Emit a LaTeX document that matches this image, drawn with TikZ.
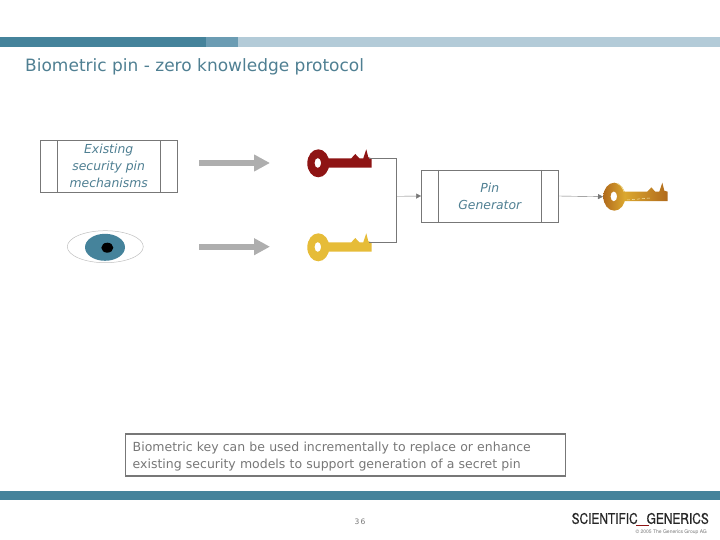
\documentclass[tikz,border=0pt]{standalone}
\usepackage{fontspec}
\setmainfont{DejaVu Sans}
\newfontfamily\logofont[FakeStretch=0.82,FakeBold=0.6]{TeX Gyre Heros}
\newfontfamily\smallfont{TeX Gyre Heros}
\usetikzlibrary{positioning,arrows.meta}
\definecolor{barblue}{HTML}{45839B}
\definecolor{barmid}{HTML}{6B9CB3}
\definecolor{barpale}{HTML}{B3CBD8}
\definecolor{titleblue}{HTML}{4F7F92}
\definecolor{wiregray}{HTML}{777777}
\definecolor{arrowgray}{HTML}{AEAEAE}
\definecolor{keyred}{HTML}{8E1414}
\definecolor{keyyellow}{HTML}{E6BC38}
\definecolor{keygold}{HTML}{DDAA30}
\definecolor{keybrown}{HTML}{B06A1C}
\definecolor{keycream}{HTML}{F6E6A8}
\tikzset{
    procbox/.style={draw=wiregray, minimum width=137pt, inner sep=0pt, align=center,
        text=titleblue, font=\fontsize{12.4}{17}\selectfont\itshape,
        path picture={
            \draw[wiregray] ([xshift=17pt]path picture bounding box.north west)
                -- ([xshift=17pt]path picture bounding box.south west);
            \draw[wiregray] ([xshift=-17pt]path picture bounding box.north east)
                -- ([xshift=-17pt]path picture bounding box.south east);
        }},
    wire/.style={draw=wiregray, line width=1pt},
    feedarrow/.style={draw=arrowgray, line width=5.6pt,
        -{Triangle[length=16pt,width=16pt]}},
}
% key lying on its side, ring centre at #2
\newcommand{\drawkey}[4]{
    \begin{scope}[shift={#2}]
        \path[#3] (9,-5) -- (33,-5) -- (37,-9.3) -- (41,-5) -- (45,-5)
            -- (48,-14) -- (50,-6) -- (53.4,-5) -- (53.4,4.4) -- (9,4.4) -- cycle;
        \path[#4, even odd rule] (0,0) ellipse (11 and 14)
            (-0.5,-0.3) ellipse (3.3 and 5);
        \coordinate (#1) at (50.5,-4.6);
    \end{scope}
}
\begin{document}
\begin{tikzpicture}[x=1pt,y=-1pt]
    \useasboundingbox (0,0) rectangle (720,540);

    % Bars
    \fill[barblue] (0,37) rectangle (206,47);
    \fill[barmid] (206,37) rectangle (238,47);
    \fill[barpale] (238,37) rectangle (720,47);
    \fill[barblue] (0,491) rectangle (720,500);

    \node[anchor=west, text=titleblue, inner sep=0pt,
        font=\fontsize{17}{18}\selectfont] (title) at (25,66.5)
        {Biometric pin - zero knowledge protocol};

    % Boxes
    \node[procbox, minimum height=52pt] (pinsource) at (108.7,166.2)
        {Existing\\security pin\\mechanisms};
    \node[procbox, minimum height=52pt] (pingen) at (489.8,196)
        {Pin\\Generator};

    % Eye
    \draw[draw=lightgray, line width=.5pt] (105.3,246.7) ellipse (38 and 16);
    \fill[barblue] (105,247.3) ellipse (20 and 13.5);
    \fill[black] (107.3,247.7) ellipse (6 and 5);

    % Keys
    \drawkey{redkey}{(318.3,163.3)}{fill=keyred}{fill=keyred}
    \drawkey{yellowkey}{(318.3,247.3)}{fill=keyyellow}{fill=keyyellow}
    \drawkey{goldkey}{(614.3,196.7)}{left color=keygold, right color=keybrown}
        {left color=keybrown, right color=keygold}
    \draw[keycream, line width=.6pt] (617,183.4) arc[start angle=-75, end angle=-20,
        x radius=10, y radius=13];
    \draw[keycream, dashed, line width=.5pt, dash pattern=on 3pt off 2pt]
        (627,200) -- (650,198);

    % Arrows
    \coordinate (feedonestart) at (199,163);
    \coordinate (feedoneend) at (270,163);
    \coordinate (feedtwostart) at (199,246.7);
    \coordinate (feedtwoend) at (270,246.7);
    \draw[feedarrow] (feedonestart) -- (feedoneend);
    \draw[feedarrow] (feedtwostart) -- (feedtwoend);

    \coordinate (joint) at (396,196.3);
    \coordinate (goldin) at (603,196.7);
    \draw[wire] (redkey) -| (joint);
    \draw[wire] (yellowkey) -| (joint);
    \draw[draw=wiregray, -{Triangle[length=5pt,width=5pt]}] (joint) -- (pingen.west);
    \draw[draw=wiregray, -{Triangle[length=5pt,width=5pt]}] (pingen.east) -- (goldin);

    % Note
    \node[draw=wiregray, line width=1.5pt, minimum width=440pt, minimum height=42pt,
        text width=426pt, inner sep=0pt, align=left, text=wiregray,
        font=\fontsize{12.5}{17}\selectfont] (note) at (345.7,455)
        {\rule{0pt}{13.5pt}Biometric key can be used incrementally to replace or enhance\\
        existing security models to support generation of a secret pin};

    \node[text=wiregray, inner sep=0pt, font=\fontsize{7.5}{9}\selectfont] (pagenum)
        at (360,522) {3\,6};

    % Logo
    \node[anchor=east, inner sep=0pt, text=black!85,
        font=\logofont\fontsize{14.5}{15}\selectfont] (logo) at (709,518.5)
        {SCIENTIFIC\hspace{9pt}GENERICS};
    \fill[keyred] (636,524.5) rectangle (649,526);
    \node[anchor=east, inner sep=0pt, text=wiregray,
        font=\smallfont\fontsize{5}{6}\selectfont] (copyright) at (707,532)
        {\textcopyright\ 2005 The Generics Group AG};
\end{tikzpicture}
\end{document}
